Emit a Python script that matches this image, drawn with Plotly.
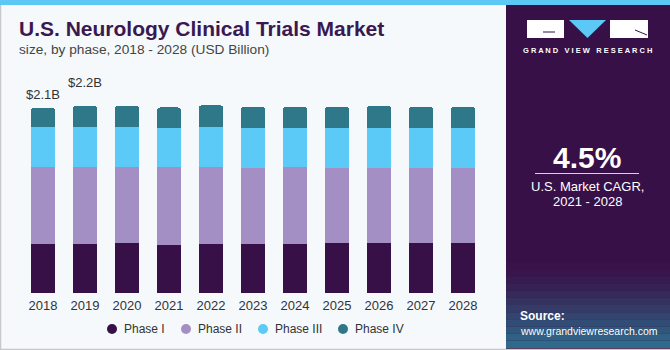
import plotly.graph_objects as go

years = ["2018", "2019", "2020", "2021", "2022", "2023", "2024", "2025", "2026", "2027", "2028"]
phase1 = [0.56, 0.56, 0.57, 0.55, 0.56, 0.555, 0.555, 0.565, 0.565, 0.565, 0.565]
phase2 = [0.87, 0.87, 0.86, 0.88, 0.87, 0.87, 0.875, 0.86, 0.86, 0.86, 0.86]
phase3 = [0.455, 0.46, 0.46, 0.45, 0.455, 0.455, 0.45, 0.455, 0.455, 0.455, 0.455]
phase4 = [0.22, 0.24, 0.24, 0.23, 0.25, 0.24, 0.24, 0.235, 0.25, 0.24, 0.24]
series_names = ["Phase I", "Phase II", "Phase III", "Phase IV"]
colors = ["#371047", "#a48fc4", "#5bcaf6", "#2f7889"]
value_labels = ["$2.1B", "$2.2B"]

W, H = 670, 350
FONT = "Liberation Sans"

def px(x):
    return x / W

def py(y):
    return 1 - y / H

fig = go.Figure()
for name, vals, c in zip(series_names, [phase1, phase2, phase3, phase4], colors):
    fig.add_trace(go.Bar(x=years, y=vals, name=name, marker_color=c,
                         marker_line_width=0, showlegend=False, hoverinfo="skip"))

totals = [a + b + c + d for a, b, c, d in zip(phase1, phase2, phase3, phase4)]
for i, lab in enumerate(value_labels):
    fig.add_annotation(x=i, y=totals[i], text=lab, showarrow=False,
                       yanchor="bottom", yshift=4 + 10 * i,
                       font=dict(size=13, color="#333333", family=FONT))

shapes = []
# top stripe
shapes.append(dict(type="rect", xref="paper", yref="paper", x0=0, x1=1, y0=py(5), y1=1,
                   fillcolor="#5bc8f5", line_width=0, layer="below"))
# borders
shapes.append(dict(type="line", xref="paper", yref="paper", x0=px(0.5), x1=px(0.5), y0=0, y1=py(5),
                   line=dict(color="#c8c8c8", width=1.5)))
shapes.append(dict(type="line", xref="paper", yref="paper", x0=0, x1=1, y0=py(349.5), y1=py(349.5),
                   line=dict(color="#c8c8c8", width=1.5)))
# right panel
shapes.append(dict(type="rect", xref="paper", yref="paper", x0=px(506), x1=1, y0=0, y1=py(5),
                   fillcolor="#371047", line_width=0, layer="below"))
band_cols = ["#381249", "#38164c", "#381b50", "#372254", "#362a5a", "#353260", "#343b67",
             "#33446e", "#324d75", "#31567c", "#306083", "#2f6a8b"]
top = 262
step = (348 - top) / len(band_cols)
for i, bc in enumerate(band_cols):
    shapes.append(dict(type="rect", xref="paper", yref="paper", x0=px(506), x1=1,
                       y0=py(top + step * (i + 1)), y1=py(top + step * i),
                       fillcolor=bc, line_width=0, layer="below"))
# logo blocks
shapes.append(dict(type="rect", xref="paper", yref="paper", x0=px(527), x1=px(564), y0=py(38), y1=py(20),
                   fillcolor="white", line_width=0))
shapes.append(dict(type="path", xref="paper", yref="paper",
                   path=f"M {px(569)} {py(20)} L {px(606)} {py(20)} L {px(587.5)} {py(38)} Z",
                   fillcolor="#5bc8f5", line_width=0))
shapes.append(dict(type="rect", xref="paper", yref="paper", x0=px(610), x1=px(648), y0=py(38), y1=py(20),
                   fillcolor="white", line_width=0))
shapes.append(dict(type="line", xref="paper", yref="paper", x0=px(543), x1=px(555), y0=py(32), y1=py(32),
                   line=dict(color="#371047", width=1)))
shapes.append(dict(type="line", xref="paper", yref="paper", x0=px(635), x1=px(647), y0=py(30), y1=py(35),
                   line=dict(color="#371047", width=1)))
# CAGR separator
shapes.append(dict(type="line", xref="paper", yref="paper", x0=px(535), x1=px(639), y0=py(173.5), y1=py(173.5),
                   line=dict(color="#d8d0e0", width=1.2)))

# legend (circle + label)
legend_x = [112, 186, 263, 343]
legend_y = 329
for lx, name, c in zip(legend_x, series_names, colors):
    shapes.append(dict(type="circle", xref="paper", yref="paper",
                       x0=px(lx - 5), x1=px(lx + 5), y0=py(legend_y + 5), y1=py(legend_y - 5),
                       fillcolor=c, line_width=0))
    fig.add_annotation(xref="paper", yref="paper", x=px(lx + 10), y=py(legend_y), text=name,
                       showarrow=False, xanchor="left", yanchor="middle",
                       font=dict(size=12, color="#333333", family=FONT))

annos = [
    dict(x=px(17), y=py(29), text="<b>U.S. Neurology Clinical Trials Market</b>", xanchor="left",
         font=dict(size=21, color="#3a1850", family=FONT)),
    dict(x=px(17), y=py(50), text="size, by phase, 2018 - 2028 (USD Billion)", xanchor="left",
         font=dict(size=13.7, color="#444444", family=FONT)),
    dict(x=px(587.5), y=py(51), text="<b>G R A N D   V I E W   R E S E A R C H</b>", xanchor="center",
         font=dict(size=7.5, color="white", family=FONT)),
    dict(x=px(587), y=py(157), text="<b>4.5%</b>", xanchor="center",
         font=dict(size=30, color="white", family=FONT)),
    dict(x=px(587), y=py(186), text="U.S. Market CAGR,", xanchor="center",
         font=dict(size=13, color="white", family=FONT)),
    dict(x=px(587), y=py(201), text="2021 - 2028", xanchor="center",
         font=dict(size=13, color="white", family=FONT)),
    dict(x=px(518), y=py(316), text="<b>Source:</b>", xanchor="left",
         font=dict(size=12, color="white", family=FONT)),
    dict(x=px(518), y=py(331), text="www.grandviewresearch.com", xanchor="left",
         font=dict(size=10.5, color="white", family=FONT)),
]
for a in annos:
    a.update(xref="paper", yref="paper", showarrow=False, yanchor="middle")
    fig.add_annotation(**a)

fig.update_layout(
    width=W, height=H,
    margin=dict(l=0, r=0, t=0, b=0, pad=0),
    paper_bgcolor="#f5f9fc", plot_bgcolor="rgba(0,0,0,0)",
    barmode="stack", bargap=0.43, barcornerradius=3,
    shapes=shapes,
    showlegend=False,
    font=dict(family=FONT),
    xaxis=dict(type="category", categoryorder="array", categoryarray=years,
               range=[-0.5, len(years) - 0.5], domain=[px(22), px(484)],
               showgrid=False, zeroline=False, showline=False,
               ticks="", ticklabelstandoff=3,
               tickfont=dict(size=13, color="#333333", family=FONT), automargin=False),
    yaxis=dict(domain=[py(293), py(60)], range=[0, 2.65], visible=False, automargin=False),
)
fig.write_html("out.html")
